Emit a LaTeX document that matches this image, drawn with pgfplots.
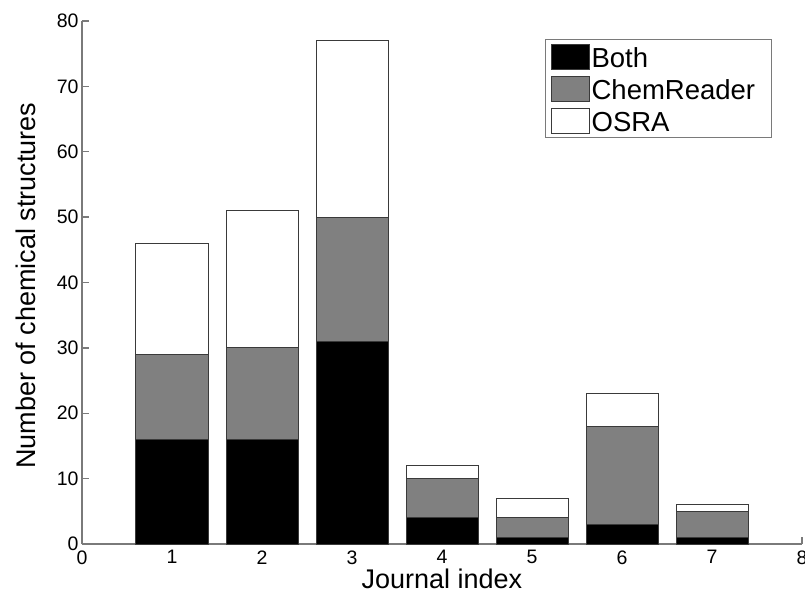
\documentclass[border=0pt]{standalone}
\usepackage{fontspec}
\setmainfont{Liberation Sans}
\usepackage{pgfplots}
\pgfplotsset{compat=1.18}
\definecolor{barg}{HTML}{808080}
\definecolor{edge}{HTML}{3A3A3A}
\definecolor{axg}{HTML}{7A7A7A}
\begin{document}
\begin{tikzpicture}
\begin{axis}[
  scale only axis,
  width=720pt, height=523pt,
  xmin=0, xmax=8, ymin=0, ymax=80,
  axis lines*=left,
  axis line style={axg, line width=1.3pt},
  tick align=inside,
  major tick length=7pt,
  tick style={axg, line width=1.3pt},
  xtick={0,...,8}, ytick={0,10,...,80},
  /pgf/number format/assume math mode=true,
  tick label style={font=\fontsize{19.5}{19.5}\selectfont, text=black},
  xticklabel style={yshift=-3pt},
  ybar stacked,
  bar width=72pt,
  xlabel={Journal index},
  ylabel={Number of chemical structures},
  label style={font=\fontsize{27}{27}\selectfont},
  xlabel style={at={(axis description cs:0.5,-0.066)}, anchor=center},
  ylabel style={at={(axis description cs:-0.0778,0.494)}, anchor=center},
  legend style={at={(rel axis cs:0.958,0.966)}, anchor=north east,
    draw=axg, line width=1.2pt, font=\fontsize{27.5}{27.5}\selectfont,
    inner xsep=5pt, inner ysep=1pt, row sep=0pt,
    nodes={inner xsep=2pt, inner ysep=0pt, text height=27pt, text depth=5pt},
    cells={anchor=base west}},
  legend image code/.code={\draw[#1, line width=1pt] (0pt,-1.8pt) rectangle (38pt,23.2pt);},
]
\addplot[fill=black, draw=edge, line width=1pt] coordinates {(1,16) (2,16) (3,31) (4,4) (5,1) (6,3) (7,1)};
\addplot[fill=barg, draw=edge, line width=1pt] coordinates {(1,13) (2,14) (3,19) (4,6) (5,3) (6,15) (7,4)};
\addplot[fill=white, draw=edge, line width=1pt] coordinates {(1,17) (2,21) (3,27) (4,2) (5,3) (6,5) (7,1)};
\legend{Both, ChemReader\kern9pt, OSRA}
\end{axis}
\pgfresetboundingbox
\path[use as bounding box] (-82pt,-55pt) rectangle (723pt,544pt);
\end{tikzpicture}
\end{document}
